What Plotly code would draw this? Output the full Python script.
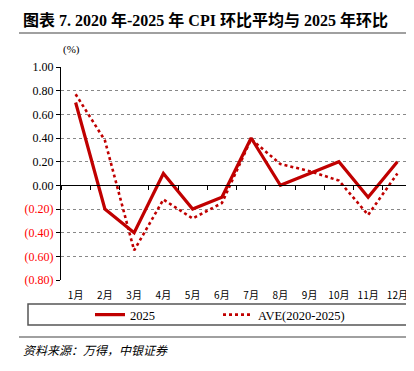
import plotly.graph_objects as go

months = ["1月", "2月", "3月", "4月", "5月", "6月", "7月", "8月", "9月", "10月", "11月", "12月"]
cpi_2025 = [0.70, -0.20, -0.40, 0.10, -0.20, -0.10, 0.40, 0.00, 0.10, 0.20, -0.10, 0.20]
cpi_ave = [0.77, 0.38, -0.55, -0.12, -0.28, -0.15, 0.39, 0.18, 0.12, 0.04, -0.25, 0.10]
ytick_vals = [1.0, 0.8, 0.6, 0.4, 0.2, 0.0, -0.2, -0.4, -0.6, -0.8]

# the page body has an 8px default margin: work in window pixels, offset into figure pixels
OFF = 8
W, H = 414 - OFF, 371 - OFF
L, R, T, B = 61 - OFF, 412 - OFF, 67 - OFF, 280 - OFF
RED = "#C00000"


def px(x):
    return (x - OFF - L) / (R - L)


def py(y):
    return (B - (y - OFF)) / (B - T)


def fmt(v):
    if v < 0:
        return '<span style="color:#FF0000">(%.2f)</span>' % abs(v)
    return "%.2f" % v


xs = list(range(len(months)))

fig = go.Figure()
fig.add_trace(go.Scatter(x=xs, y=cpi_2025, mode="lines", name="2025", legend="legend",
                         line=dict(color=RED, width=3.2)))
fig.add_trace(go.Scatter(x=xs, y=cpi_ave, mode="lines", name="AVE(2020-2025)", legend="legend2",
                         line=dict(color=RED, width=2.6, dash="dot")))

serif = "Liberation Serif, Noto Sans CJK SC"
leg_common = dict(orientation="h", xanchor="left", yanchor="middle",
                  font=dict(family=serif, size=12.5, color="#000"),
                  bgcolor="rgba(0,0,0,0)", itemwidth=30)

fig.update_layout(
    width=W, height=H,
    margin=dict(l=L, r=W - R, t=T, b=H - B, autoexpand=False),
    paper_bgcolor="white", plot_bgcolor="white",
    showlegend=True,
    legend=dict(x=px(90), y=py(315), **leg_common),
    legend2=dict(x=px(218), y=py(315), **leg_common),
    xaxis=dict(range=[-0.5, 11.5], tickvals=xs, ticktext=months, showgrid=False,
               zeroline=False, showline=False, ticks="", automargin=False,
               ticklabelstandoff=8,
               tickfont=dict(family="Noto Sans CJK SC", size=10, color="#000")),
    xaxis2=dict(overlaying="x", anchor="free", position=0.8 / 1.8, range=[-0.5, 11.5],
                showline=True, linecolor="#000", linewidth=1.3, automargin=False,
                tickvals=[i + 0.5 for i in range(-1, 12)], ticks="outside", ticklen=4,
                tickcolor="#000", showticklabels=False, showgrid=False, zeroline=False),
    yaxis=dict(range=[-0.8, 1.0], tickvals=ytick_vals, ticktext=[fmt(v) for v in ytick_vals],
               showgrid=True, gridcolor="#888", griddash="dot", gridwidth=1,
               zeroline=False, showline=True, linecolor="#000", linewidth=1.3,
               ticks="outside", ticklen=4, tickcolor="#000", automargin=False,
               tickfont=dict(family=serif, size=12, color="#000")),
)

# invisible helper trace so xaxis2 (zero line with boundary ticks) is rendered
fig.add_trace(go.Scatter(x=[0], y=[0], xaxis="x2", mode="markers",
                         marker=dict(opacity=0), showlegend=False, hoverinfo="skip"))

shapes = [
    dict(type="line", xref="paper", yref="paper", x0=px(19), x1=px(414), y0=py(33), y1=py(33),
         line=dict(color="#808080", width=1.6)),
    dict(type="rect", xref="paper", yref="paper", x0=px(28), x1=px(408), y0=py(304), y1=py(325),
         line=dict(color="#555", width=1.5)),
    dict(type="line", xref="paper", yref="paper", x0=px(19), x1=px(414), y0=py(337), y1=py(337),
         line=dict(color="#808080", width=1.4)),
]
fig.update_layout(shapes=shapes)

fig.add_annotation(x=px(21), y=py(20), xref="paper", yref="paper", xanchor="left", yanchor="middle",
                   text="<b>图表 7. 2020 年-2025 年 CPI 环比平均与 2025 年环比</b>", showarrow=False,
                   font=dict(family=serif, size=16, color="#000"))
fig.add_annotation(x=px(61), y=py(50), xref="paper", yref="paper", xanchor="left", yanchor="middle",
                   text="(%)", showarrow=False,
                   font=dict(family=serif, size=11, color="#000"))
fig.add_annotation(x=px(21), y=py(349), xref="paper", yref="paper", xanchor="left", yanchor="middle",
                   text="<i>资料来源：万得，中银证券</i>", showarrow=False,
                   font=dict(family="Noto Sans CJK SC", size=12, color="#000"))

fig.write_html("out.html")
